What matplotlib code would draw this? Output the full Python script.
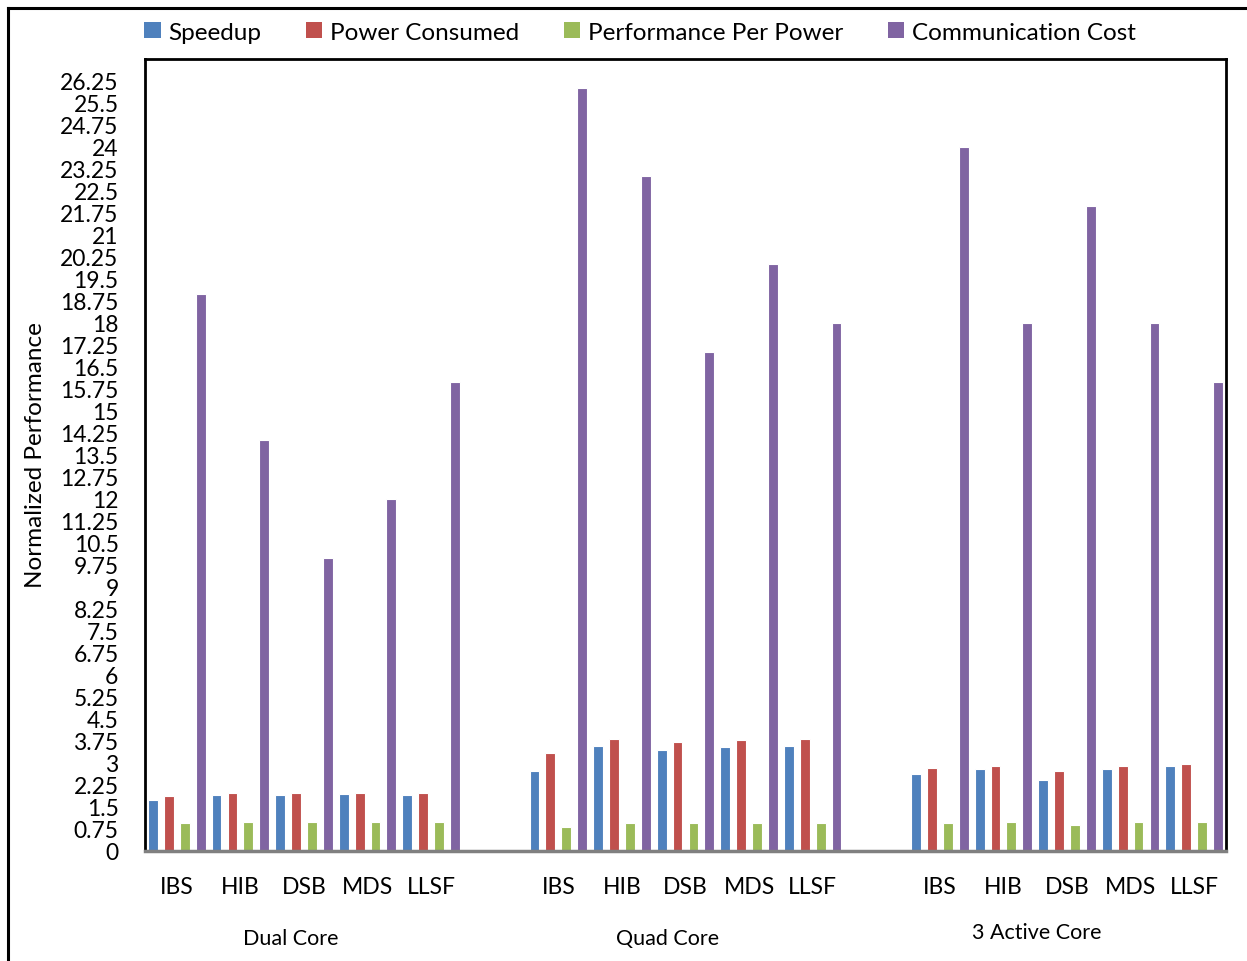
import numpy as np
import matplotlib.pyplot as plt
from matplotlib.patches import Patch
from matplotlib.lines import Line2D

plt.rcParams['font.family'] = ['Lato', 'DejaVu Sans']

algorithms = ['IBS', 'HIB', 'DSB', 'MDS', 'LLSF']
groups = ['Dual Core', 'Quad Core', '3 Active Core']
series = ['Speedup', 'Power Consumed', 'Performance Per Power', 'Communication Cost']
colors = ['#4F81BD', '#C0504D', '#9BBB59', '#8064A2']

# one list per group, 5 algorithms each
speedup = [[1.74, 1.92, 1.92, 1.93, 1.92],
           [2.72, 3.59, 3.44, 3.56, 3.59],
           [2.63, 2.80, 2.41, 2.81, 2.89]]
power = [[1.88, 1.98, 1.98, 1.98, 1.98],
         [3.35, 3.81, 3.73, 3.78, 3.81],
         [2.82, 2.90, 2.73, 2.90, 2.96]]
perf_per_power = [[0.94, 0.99, 0.99, 0.99, 0.99],
                  [0.82, 0.95, 0.94, 0.94, 0.95],
                  [0.95, 0.98, 0.89, 0.98, 0.99]]
comm_cost = [[19, 14, 10, 12, 16],
             [26, 23, 17, 20, 18],
             [24, 18, 22, 18, 16]]
all_series = [speedup, power, perf_per_power, comm_cost]

W, H = 1247, 962
fig = plt.figure(figsize=(W / 100, H / 100), dpi=100)
ax = fig.add_axes([145 / W, 1 - 852 / H, (1226 - 145) / W, (852 - 60) / H])

# outer chart frame (open on the right and bottom)
fig.add_artist(Line2D([8 / W, 8 / W], [0, 1 - 9 / H], color='black', lw=2.2, transform=fig.transFigure))
fig.add_artist(Line2D([8 / W, 1], [1 - 9 / H, 1 - 9 / H], color='black', lw=2.2, transform=fig.transFigure))

# categories: 5 per group with an empty slot between groups
cat_pos = []
for g in range(len(groups)):
    cat_pos.append(np.arange(len(algorithms)) + g * (len(algorithms) + 1))

slot = 0.25
bar_w = 0.155
for s, (name, col) in enumerate(zip(series, colors)):
    for g in range(len(groups)):
        x = cat_pos[g] + (s - 1.5) * slot
        ax.bar(x, all_series[s][g], width=bar_w, color=col,
               edgecolor='white', linewidth=0.8, zorder=2)

ax.set_xlim(-0.5, 16.5)
ax.set_ylim(0, 27)
yt = np.arange(0, 26.26, 0.75)
ax.set_yticks(yt)
ax.set_yticklabels(['%g' % v for v in yt], fontsize=16.5)
ax.tick_params(axis='y', length=0, pad=19)

xt = np.concatenate(cat_pos)
ax.set_xticks(xt)
ax.set_xticklabels(algorithms * len(groups), fontsize=16.5)
ax.tick_params(axis='x', length=0, pad=18)

for side in ['top', 'right', 'left']:
    ax.spines[side].set_color('black')
    ax.spines[side].set_linewidth(2)
ax.spines['bottom'].set_color('#808080')
ax.spines['bottom'].set_linewidth(2.5)
ax.spines['bottom'].set_zorder(3)

fig.text(36 / W, 1 - 455 / H, 'Normalized Performance', rotation=90,
         ha='center', va='center', fontsize=17.5)

# group captions below the algorithm names
for label, px, py in zip(groups, [291, 668, 1037], [939, 939, 933]):
    fig.text(px / W, 1 - py / H, label, ha='center', va='center', fontsize=15.5)

handles = [Patch(facecolor=c, edgecolor='none') for c in colors]
fig.legend(handles, series, loc='center left', bbox_to_anchor=(144 / W, 1 - 33 / H),
           ncol=4, frameon=False, fontsize=17.5, handlelength=0.68, handleheight=0.68,
           handletextpad=0.3, columnspacing=1.85, borderpad=0, borderaxespad=0)

fig.savefig('out.png', dpi=100)
